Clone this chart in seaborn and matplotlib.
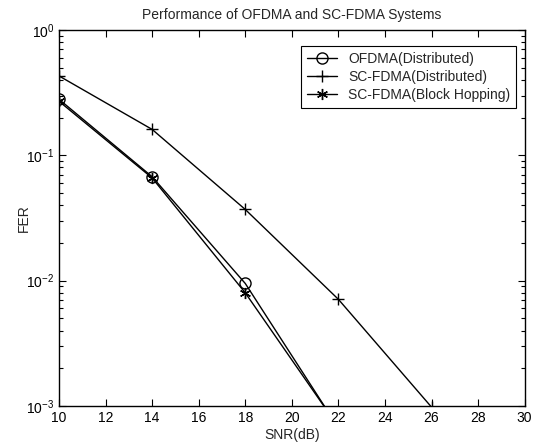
import matplotlib
matplotlib.use("Agg")
import matplotlib.pyplot as plt
import seaborn as sns
import pandas as pd
import numpy as np
from matplotlib.ticker import LogLocator, NullFormatter, FixedLocator

snr_ofdma = [10, 14, 18, 22]
fer_ofdma = [0.28, 0.0675, 0.0095, 0.00067]
snr_scd = [10, 14, 18, 22, 26]
fer_scd = [0.43, 0.161, 0.037, 0.0071, 0.00098]
snr_bh = [10, 14, 18, 22]
fer_bh = [0.27, 0.066, 0.0080, 0.00068]
labels = ["OFDMA(Distributed)", "SC-FDMA(Distributed)", "SC-FDMA(Block Hopping)"]
xticks = list(range(10, 31, 2))

sns.set_style("ticks")
plt.rcParams["font.family"] = ["Liberation Sans", "DejaVu Sans"]
plt.rcParams["xtick.direction"] = "in"
plt.rcParams["ytick.direction"] = "in"

df = pd.concat([
    pd.DataFrame({"SNR": snr_ofdma, "FER": fer_ofdma, "series": labels[0]}),
    pd.DataFrame({"SNR": snr_scd, "FER": fer_scd, "series": labels[1]}),
    pd.DataFrame({"SNR": snr_bh, "FER": fer_bh, "series": labels[2]}),
])

fig = plt.figure(figsize=(5.34, 4.45), dpi=100)
ax = fig.add_axes([0.1105, 0.0876, 0.872, 0.845])

markers = ["o", "+", (6, 2, 0)]
sizes = [8, 9, 8]
for lab, mk, ms in zip(labels, markers, sizes):
    sub = df[df.series == lab]
    sns.lineplot(data=sub, x="SNR", y="FER", ax=ax, color="black", linewidth=1.0,
                 marker=mk, markersize=ms, markerfacecolor="none",
                 markeredgecolor="black", markeredgewidth=1.0,
                 label=lab, estimator=None, sort=False)

ax.set_yscale("log")
ax.set_xlim(10, 30)
ax.set_ylim(1e-3, 1)
ax.xaxis.set_major_locator(FixedLocator(xticks))
ax.set_xticklabels([str(t) for t in xticks])
ax.yaxis.set_major_locator(LogLocator(base=10, numticks=10))
ax.yaxis.set_minor_locator(LogLocator(base=10, subs=np.arange(2, 10), numticks=10))
ax.yaxis.set_minor_formatter(NullFormatter())
ax.tick_params(which="both", top=True, right=True, labelsize=10, width=0.8, colors="black")
ax.tick_params(which="major", length=5)
ax.tick_params(which="minor", length=3)
for s in ax.spines.values():
    s.set_linewidth(1.0)
    s.set_color("black")

ax.set_xlabel("SNR(dB)", fontsize=10, labelpad=2)
ax.set_ylabel("FER", fontsize=10)
ax.yaxis.set_label_coords(-0.06, 0.5)
ax.set_title("Performance of OFDMA and SC-FDMA Systems", fontsize=10, pad=8)

leg = ax.legend(loc="upper right", bbox_to_anchor=(0.996, 0.975), fontsize=10,
                frameon=True, fancybox=False, edgecolor="black", framealpha=1,
                handlelength=2.2, borderpad=0.4, labelspacing=0.3)
leg.get_frame().set_linewidth(0.8)

fig.savefig("out.png", dpi=100)
